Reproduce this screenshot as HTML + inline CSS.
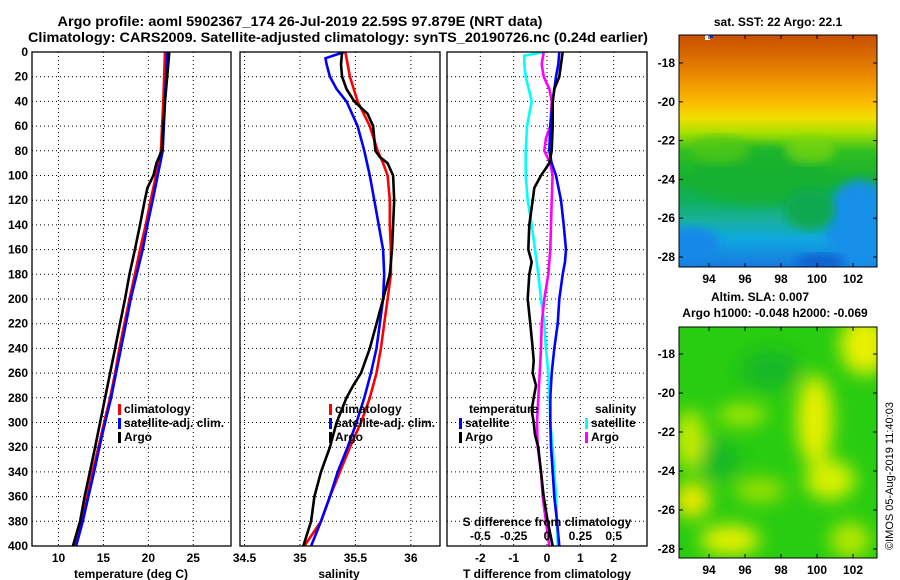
<!DOCTYPE html>
<html><head><meta charset="utf-8"><style>
html,body{margin:0;padding:0;background:#fff;}
svg{display:block;font-family:"Liberation Sans",sans-serif;font-weight:bold;}
</style></head><body>
<svg id="fig" width="900" height="580" viewBox="0 0 900 580" xmlns="http://www.w3.org/2000/svg">
<defs>
<linearGradient id="sstGrad" x1="0" y1="0" x2="0" y2="1">
<stop offset="0" stop-color="#c85000"/><stop offset="0.1" stop-color="#dc6e00"/><stop offset="0.2" stop-color="#f09400"/><stop offset="0.3" stop-color="#fcc000"/><stop offset="0.36" stop-color="#f0e000"/><stop offset="0.42" stop-color="#a8e000"/><stop offset="0.5" stop-color="#30c020"/><stop offset="0.62" stop-color="#18b030"/><stop offset="0.72" stop-color="#10b060"/><stop offset="0.8" stop-color="#18b0a0"/><stop offset="0.88" stop-color="#10a8e0"/><stop offset="1" stop-color="#1878e0"/>
</linearGradient>
<filter id="blur8"><feGaussianBlur stdDeviation="9"/></filter>
<filter id="blur4"><feGaussianBlur stdDeviation="5"/></filter>
<clipPath id="clipTop"><rect x="679" y="35" width="198" height="232"/></clipPath>
<clipPath id="clipBot"><rect x="679" y="327" width="198" height="231"/></clipPath>
<clipPath id="clipP1"><rect x="32" y="52" width="199" height="494"/></clipPath>
<clipPath id="clipP2"><rect x="240" y="52" width="200" height="494"/></clipPath>
<clipPath id="clipP3"><rect x="447" y="52" width="200" height="494"/></clipPath>
</defs>
<text x="300" y="26" font-size="14" text-anchor="middle" textLength="485" lengthAdjust="spacingAndGlyphs">Argo profile: aoml 5902367_174 26-Jul-2019 22.59S 97.879E (NRT data)</text>
<text x="338" y="42" font-size="14" text-anchor="middle" textLength="620" lengthAdjust="spacingAndGlyphs">Climatology: CARS2009. Satellite-adjusted climatology: synTS_20190726.nc (0.24d earlier)</text>
<g id="panels"></g>
<g>
<g clip-path="url(#clipTop)">
<rect x="679" y="35" width="198" height="232" fill="url(#sstGrad)"/>
<ellipse cx="760" cy="175" rx="70" ry="30" fill="#18b030" filter="url(#blur4)" opacity="0.8"/>
<ellipse cx="720" cy="150" rx="30" ry="14" fill="#50c818" filter="url(#blur4)" opacity="0.8"/>
<ellipse cx="810" cy="150" rx="25" ry="14" fill="#80d810" filter="url(#blur4)" opacity="0.7"/>
<ellipse cx="860" cy="225" rx="35" ry="45" fill="#1890e8" filter="url(#blur4)"/>
<ellipse cx="690" cy="245" rx="30" ry="18" fill="#1888e8" filter="url(#blur4)"/>
<ellipse cx="820" cy="262" rx="25" ry="8" fill="#1060d0" filter="url(#blur4)"/>
<ellipse cx="810" cy="210" rx="25" ry="20" fill="#10a850" filter="url(#blur4)"/>
<rect x="705" y="35" width="5" height="5" fill="#fff"/>
<rect x="710" y="35" width="3" height="3" fill="#1030c0"/>
</g>
<rect x="679" y="35" width="198" height="232" fill="none" stroke="#000" stroke-width="1"/>
</g>
<g>
<g clip-path="url(#clipBot)">
<rect x="679" y="327" width="198" height="231" fill="#28cc10"/>
<g filter="url(#blur8)">
<ellipse cx="865" cy="345" rx="25" ry="30" fill="#e8f000"/>
<ellipse cx="815" cy="420" rx="18" ry="45" fill="#e8f000"/>
<ellipse cx="830" cy="480" rx="25" ry="20" fill="#d8f000"/>
<ellipse cx="742" cy="415" rx="25" ry="10" fill="#b0e800"/>
<ellipse cx="690" cy="440" rx="15" ry="30" fill="#c8ec00"/>
<ellipse cx="692" cy="500" rx="18" ry="18" fill="#f0e800"/>
<ellipse cx="730" cy="540" rx="30" ry="15" fill="#e8f000"/>
<ellipse cx="850" cy="540" rx="20" ry="18" fill="#b8e800"/>
<ellipse cx="760" cy="490" rx="25" ry="12" fill="#a0e000"/>
<ellipse cx="770" cy="370" rx="30" ry="20" fill="#18b828"/>
<ellipse cx="720" cy="460" rx="20" ry="20" fill="#18b828"/>
</g>
</g>
<rect x="679" y="327" width="198" height="231" fill="none" stroke="#000" stroke-width="1"/>
</g>
<text x="778" y="26" font-size="12" text-anchor="middle">sat. SST: 22 Argo: 22.1</text>
<text x="760" y="301" font-size="12" text-anchor="middle">Altim. SLA: 0.007</text>
<text x="775" y="317" font-size="12" text-anchor="middle">Argo h1000: -0.048 h2000: -0.069</text>
<text transform="translate(893,550) rotate(-90)" font-size="11" font-weight="normal">©IMOS 05-Aug-2019 11:40:03</text>
<g id="mapticks"></g>
</svg>
<script>
// ---- data (depth in m) ----
const depthTicks = [0,20,40,60,80,100,120,140,160,180,200,220,240,260,280,300,320,340,360,380,400];
const tempClimDepth = [0,40,80,100,120,140,160,180,200,220,240,260,280,300,320,340,360,380,400];
const tempClim = [21.85,21.67,21.4,20.85,20.26,19.7,19.07,18.5,17.9,17.33,16.78,16.3,15.74,15.07,14.44,13.8,13.2,12.6,11.67];
const tempSatDepth = [0,40,80,100,120,140,160,180,200,220,240,260,280,300,320,340,360,380,400];
const tempSat = [22.1,21.85,21.6,21.04,20.48,19.9,19.37,18.7,18.04,17.5,16.96,16.4,15.85,15.19,14.55,13.96,13.33,12.7,11.96];
const tempArgoDepth = [0,20,40,60,80,90,100,110,120,140,160,180,200,220,240,260,280,300,320,340,360,380,400];
const tempArgo = [22.33,22.1,21.85,21.67,21.5,20.9,20.56,19.9,19.6,19.07,18.5,17.9,17.4,16.85,16.3,15.74,15.19,14.63,14.07,13.5,12.9,12.4,11.6];
const salClimDepth = [0,20,40,60,80,90,100,120,140,160,180,200,220,240,260,280,300,320,340,360,380,400];
const salClim = [35.41,35.45,35.52,35.63,35.70,35.75,35.79,35.81,35.81,35.82,35.82,35.79,35.76,35.73,35.69,35.63,35.55,35.45,35.36,35.27,35.19,35.04];
const salSatDepth = [0,5,10,20,30,40,60,80,100,120,140,160,180,200,220,240,260,280,300,320,340,360,380,400];
const salSat = [35.40,35.23,35.24,35.27,35.33,35.42,35.52,35.58,35.63,35.67,35.71,35.75,35.76,35.75,35.72,35.69,35.64,35.58,35.51,35.43,35.34,35.27,35.19,35.10];
const salArgoDepth = [0,10,20,30,40,50,60,80,85,90,100,120,140,160,180,200,220,240,260,270,280,300,320,340,360,380,400];
const salArgo = [35.38,35.37,35.38,35.42,35.49,35.61,35.66,35.68,35.72,35.79,35.84,35.85,35.84,35.83,35.81,35.75,35.69,35.63,35.55,35.48,35.42,35.33,35.27,35.19,35.13,35.10,35.03];
const dTSatDepth = [0,10,20,40,60,80,90,100,120,140,160,170,180,200,220,240,260,280,300,320,340,360,380,400];
const dTSat = [0.37,0.34,0.27,0.17,0.10,0.07,0.14,0.27,0.42,0.50,0.57,0.54,0.47,0.37,0.32,0.22,0.14,0.10,0.10,0.12,0.17,0.22,0.30,0.37];
const dTArgoDepth = [0,10,20,30,40,60,80,90,100,110,120,130,140,160,170,180,200,220,240,250,260,270,280,290,300,310,320,340,360,380,400];
const dTArgo = [0.47,0.42,0.37,0.22,0.17,0.17,0.14,0.07,-0.18,-0.38,-0.43,-0.48,-0.53,-0.56,-0.46,-0.53,-0.58,-0.50,-0.43,-0.40,-0.43,-0.33,-0.40,-0.46,-0.40,-0.36,-0.26,-0.18,-0.10,0.02,0.17];
const dSSatDepth = [0,3,10,20,40,60,80,100,120,140,160,180,200,220,240,260,280,300,320,340,360,380,400];
const dSSat = [-0.02,-0.17,-0.17,-0.16,-0.115,-0.15,-0.16,-0.16,-0.145,-0.115,-0.09,-0.065,-0.045,-0.02,-0.008,0.01,0.018,0.025,0.042,0.055,0.068,0.075,0.08];
const dSArgoDepth = [0,10,20,30,40,60,70,80,90,100,120,140,160,180,200,220,240,260,280,300,320,340,360,380,400];
const dSArgo = [-0.025,-0.04,-0.025,0.018,0.035,0.025,-0.008,-0.02,0.025,0.042,0.035,0.03,0.025,0.01,-0.02,-0.04,-0.045,-0.055,-0.065,-0.075,-0.07,-0.045,-0.032,-0.008,0.018];
const tempTicks = [10,15,20,25];
const salTicks = [34.5,35,35.5,36];
const salTickLabels = ['34.5','35','35.5','36'];
const dTTicks = [-2,-1,0,1,2];
const dSTicks = [-0.5,-0.25,0,0.25,0.5];
const dSTickLabels = ['-0.5','-0.25','0','0.25','0.5'];
const latTicks = [-18,-20,-22,-24,-26,-28];
const lonTicks = [94,96,98,100,102];

const NS='http://www.w3.org/2000/svg';
const Y0=52, Y1=546;
function yD(d){return Y0+(d/400)*(Y1-Y0);}
function mk(tag,attrs,parent){const e=document.createElementNS(NS,tag);for(const k in attrs)e.setAttribute(k,attrs[k]);parent.appendChild(e);return e;}
const root=document.getElementById('panels');

function panel(name,x0,x1,dmin,dmax,clip){
  const g=mk('g',{},root);
  
  
  const sx=v=>x0+(v-dmin)/(dmax-dmin)*(x1-x0);
  return {g,sx,x0,x1,clip};
}
function grid(p,xt){
  for(const d of depthTicks){if(d===0||d===400)continue;const y=yD(d);
    const l=mk('line',{x1:p.x0,x2:p.x1,y1:y,y2:y,stroke:'#000','stroke-width':1,'stroke-dasharray':'1,3'},p.g);
    
    }
  for(const v of xt){const x=p.sx(v);
    const l=mk('line',{x1:x,x2:x,y1:Y0,y2:Y1,stroke:'#000','stroke-width':1,'stroke-dasharray':'1,3'},p.g);
    
    }
}
function frame(p){
  const r=mk('rect',{x:p.x0,y:Y0,width:p.x1-p.x0,height:Y1-Y0,fill:'none',stroke:'#000','stroke-width':1.3},p.g);
  
  
}
function series(p,depths,vals,color,name,scale){
  let s='';for(let i=0;i<vals.length;i++){s+=(i?'L':'M')+p.sx(vals[i]*(scale||1)).toFixed(1)+','+yD(depths[i]).toFixed(1);}
  const e=mk('path',{d:s,fill:'none',stroke:color,'stroke-width':2.6,'stroke-linejoin':'miter','clip-path':'url(#'+p.clip+')'},p.g);
  
  
}
function txt(p,x,y,t,anchor,size,name){
  const e=mk('text',{x:x,y:y,'font-size':size||12,'text-anchor':anchor||'middle'},p.g);e.textContent=t;
  
  
  return e;
}
function legendEntry(p,x,y,color,label){
  const r=mk('rect',{x:x,y:y-9,width:3,height:11,fill:color},p.g);
  
  
  txt(p,x+6,y,label,'start',12,'legend-entry');
}

// panel 1: temperature
const p1=panel('temperature-panel',32,231,7.05,29.2,'clipP1');
grid(p1,tempTicks);
series(p1,tempClimDepth,tempClim,'#ff0000','temp-climatology-line');
series(p1,tempSatDepth,tempSat,'#0000ff','temp-satellite-line');
series(p1,tempArgoDepth,tempArgo,'#000000','temp-argo-line');
frame(p1);
for(const d of depthTicks){txt(p1,28,yD(d)+4,String(d),'end',12,'y-tick-label');}
tempTicks.forEach(v=>txt(p1,p1.sx(v),562,String(v),'middle',12,'x-tick-label'));
txt(p1,131,578,'temperature (deg C)','middle',12,'x-axis-title');
legendEntry(p1,118,413,'#ff0000','climatology');
legendEntry(p1,118,427,'#0000ff','satellite-adj. clim.');
legendEntry(p1,118,441,'#000000','Argo');

// panel 2: salinity
const p2=panel('salinity-panel',240,440,34.459,36.263,'clipP2');
grid(p2,salTicks);
series(p2,salClimDepth,salClim,'#ff0000','sal-climatology-line');
series(p2,salSatDepth,salSat,'#0000ff','sal-satellite-line');
series(p2,salArgoDepth,salArgo,'#000000','sal-argo-line');
frame(p2);
salTicks.forEach((v,i)=>txt(p2,p2.sx(v),562,salTickLabels[i],'middle',12,'x-tick-label'));
txt(p2,339,578,'salinity','middle',12,'x-axis-title');
legendEntry(p2,329,413,'#ff0000','climatology');
legendEntry(p2,329,427,'#0000ff','satellite-adj. clim.');
legendEntry(p2,329,441,'#000000','Argo');

// panel 3: differences (S plotted on scale x4)
const p3=panel('difference-panel',447,647,-3,3,'clipP3');
grid(p3,dTTicks);
series(p3,dSSatDepth,dSSat,'#00ffff','sal-diff-satellite-line',4);
series(p3,dSArgoDepth,dSArgo,'#ff00ff','sal-diff-argo-line',4);
series(p3,dTSatDepth,dTSat,'#0000ff','temp-diff-satellite-line');
series(p3,dTArgoDepth,dTArgo,'#000000','temp-diff-argo-line');
frame(p3);
dTTicks.forEach(v=>txt(p3,p3.sx(v),562,String(v),'middle',12,'x-tick-label'));
txt(p3,547,578,'T difference from climatology','middle',12,'x-axis-title');
txt(p3,469,413,'temperature','start',12,'legend-title-temperature');
legendEntry(p3,459,427,'#0000ff','satellite');
legendEntry(p3,459,441,'#000000','Argo');
txt(p3,595,413,'salinity','start',12,'legend-title-salinity');
legendEntry(p3,585,427,'#00ffff','satellite');
legendEntry(p3,585,441,'#ff00ff','Argo');
txt(p3,547,526,'S difference from climatology','middle',12,'s-axis-title');
dSTicks.forEach((v,i)=>txt(p3,p3.sx(v*4),540,dSTickLabels[i],'middle',12,'s-tick-label'));

// map ticks
const mt=document.getElementById('mapticks');
const lonX=v=>709+(v-94)*18;
function mapAxes(top,bot,lat18y,lat28y){
  const ly=v=>lat18y+(v+18)/(-10)*(lat28y-lat18y);
  latTicks.forEach(v=>{const y=ly(v);
    const t=mk('text',{x:675,y:y+4,'font-size':12,'text-anchor':'end'},mt);t.textContent=String(v);
    
    
    mk('line',{x1:679,x2:683,y1:y,y2:y,stroke:'#000'},mt);
    mk('line',{x1:873,x2:877,y1:y,y2:y,stroke:'#000'},mt);});
  lonTicks.forEach(v=>{const x=lonX(v);
    const t=mk('text',{x:x,y:bot+16,'font-size':12,'text-anchor':'middle'},mt);t.textContent=String(v);
    
    
    mk('line',{x1:x,x2:x,y1:bot,y2:bot-4,stroke:'#000'},mt);
    mk('line',{x1:x,x2:x,y1:top,y2:top+4,stroke:'#000'},mt);});
}
mapAxes(35,267,63,257);
mapAxes(327,558,354,549);
</script>
</body></html>
